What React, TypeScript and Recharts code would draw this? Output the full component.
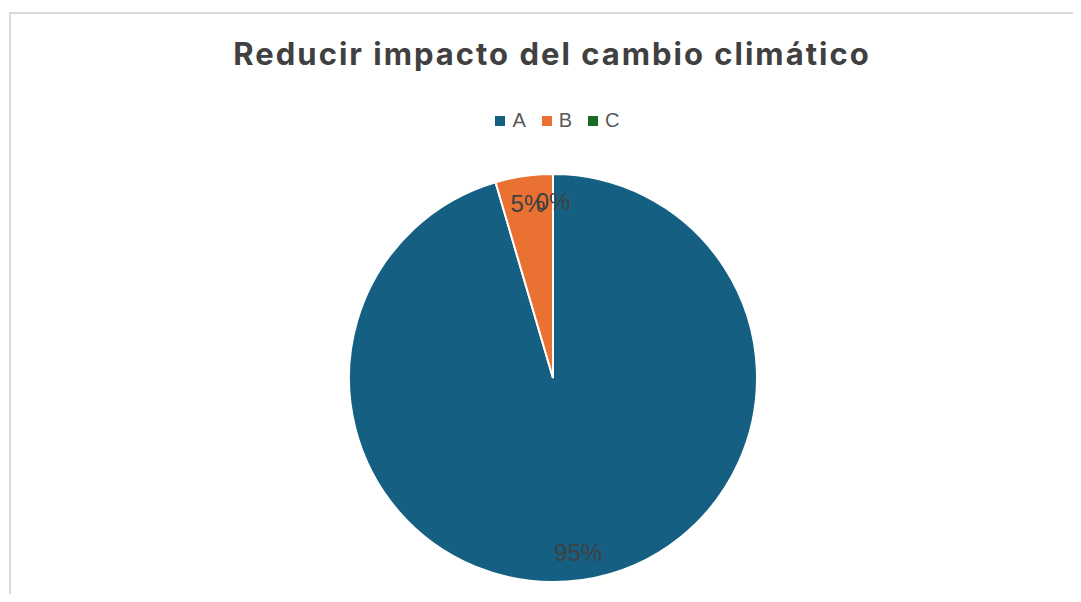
import { Cell, Pie, PieChart } from "recharts"

const categories = ["A", "B", "C"]
const values = [21, 1, 0]
const sliceColors = ["#156082", "#E97132", "#196B24"]

const chartData = categories.map((name, i) => ({ name, value: values[i] }))
const total = values.reduce((s, v) => s + v, 0)

const RAD = Math.PI / 180

function renderLabel(props: any) {
  const { cx, cy, midAngle, outerRadius, value } = props
  const r = outerRadius * 0.865
  const x = cx + r * Math.cos(-midAngle * RAD)
  const y = cy + r * Math.sin(-midAngle * RAD)
  return (
    <text
      x={x}
      y={y}
      textAnchor="middle"
      dominantBaseline="central"
      fill="#404040"
      fontSize={24}
      fontFamily="'Liberation Sans', Arial, sans-serif"
    >
      {`${Math.round((value / total) * 100)}%`}
    </text>
  )
}

function LegendRow() {
  return (
    <div
      style={{
        display: "flex",
        justifyContent: "center",
        gap: 16,
        fontFamily: "'Liberation Sans', Arial, sans-serif",
        fontSize: 20,
        color: "#595959",
      }}
    >
      {categories.map((name, i) => (
        <span key={name} style={{ display: "flex", alignItems: "center" }}>
          <span
            style={{
              width: 10,
              height: 10,
              background: sliceColors[i],
              display: "inline-block",
              marginRight: 7,
            }}
          />
          {name}
        </span>
      ))}
    </div>
  )
}

export default function App() {
  return (
    <div style={{ position: "relative", width: 1081, height: 602, margin: -8, background: "#fff", overflow: "hidden" }}>
      <div
        style={{
          position: "absolute",
          left: 9,
          top: 12,
          width: 1090,
          height: 620,
          border: "2px solid #d9d9d9",
          boxSizing: "border-box",
        }}
      />
      <div style={{ position: "absolute", left: 0, top: 0 }}>
        <PieChart width={1081} height={602} margin={{ top: 0, right: 0, bottom: 0, left: 0 }}>
          <Pie
            data={chartData}
            dataKey="value"
            nameKey="name"
            cx={553}
            cy={378}
            outerRadius={204}
            startAngle={90}
            endAngle={-270}
            stroke="#ffffff"
            strokeWidth={2}
            label={renderLabel}
            labelLine={false}
            isAnimationActive={false}
          >
            {chartData.map((d, i) => (
              <Cell key={d.name} fill={sliceColors[i]} />
            ))}
          </Pie>
        </PieChart>
      </div>
      <div
        style={{
          position: "absolute",
          left: 1,
          top: 35,
          width: 1102,
          textAlign: "center",
          fontFamily: "Inter, sans-serif",
          fontWeight: 700,
          fontSize: 31,
          letterSpacing: 2,
          lineHeight: "normal",
          color: "#404040",
        }}
      >
        Reducir impacto del cambio climático
      </div>
      <div style={{ position: "absolute", left: 17, width: 1081, top: 109 }}>
        <LegendRow />
      </div>
    </div>
  )
}
